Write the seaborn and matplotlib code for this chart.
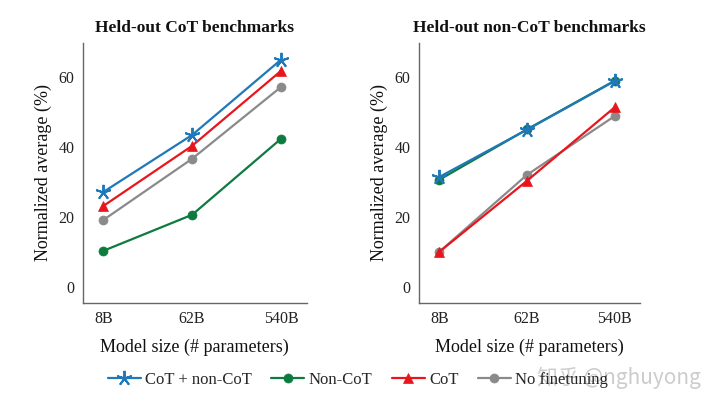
import numpy as np
import pandas as pd
import matplotlib
matplotlib.use("Agg")
import matplotlib.pyplot as plt
import seaborn as sns

sizes = ["8B", "62B", "540B"]
series = ["CoT + non-CoT", "Non-CoT", "CoT", "No finetuning"]

# held-out CoT benchmarks
cot_both = [27.1, 43.4, 64.9]
cot_noncot = [10.3, 20.6, 42.3]
cot_cot = [23.1, 40.3, 61.7]
cot_none = [19.1, 36.6, 57.1]

# held-out non-CoT benchmarks
noncot_both = [31.4, 44.9, 58.8]
noncot_noncot = [30.6, 45.0, 58.9]
noncot_cot = [10.0, 30.3, 51.3]
noncot_none = [10.0, 32.0, 48.8]

colors = {"CoT + non-CoT": "#1f78b8", "Non-CoT": "#0d7a40",
          "CoT": "#e8161c", "No finetuning": "#8a8a8a"}
markers = {"CoT + non-CoT": (5, 2, 0), "Non-CoT": "o", "CoT": "^", "No finetuning": "o"}
msizes = {"CoT + non-CoT": 11, "Non-CoT": 6.5, "CoT": 6.5, "No finetuning": 6.5}

sns.set_theme(style="white")
plt.rcParams["font.family"] = ["Liberation Serif", "DejaVu Serif"]

def make_df(vals):
    rows = []
    for name, v in zip(series, vals):
        for i, s in enumerate(sizes):
            rows.append({"size": i, "label": s, "value": v[i], "series": name})
    return pd.DataFrame(rows)

df_cot = make_df([cot_both, cot_noncot, cot_cot, cot_none])
df_noncot = make_df([noncot_both, noncot_noncot, noncot_cot, noncot_none])

fig = plt.figure(figsize=(7.2, 4.07), dpi=100)
ax1 = fig.add_axes([0.115, 0.2555, 0.311, 0.639])
ax2 = fig.add_axes([0.582, 0.2555, 0.307, 0.639])

for ax, df, title in [(ax1, df_cot, "Held-out CoT benchmarks"),
                      (ax2, df_noncot, "Held-out non-CoT benchmarks")]:
    # draw back to front so the blue line sits on top
    for name in series[::-1]:
        d = df[df["series"] == name]
        sns.lineplot(data=d, x="size", y="value", ax=ax, color=colors[name],
                     marker=markers[name], markersize=msizes[name],
                     markeredgecolor=colors[name], markeredgewidth=1.4 if name == series[0] else 0.5,
                     linewidth=1.6, label=name, legend=False)
    ax.set_xlim(-0.23, 2.29)
    ax.set_ylim(-4.6, 69.7)
    ax.set_xticks(range(len(sizes)))
    ax.set_xticklabels(sizes)
    ax.set_yticks([0, 20, 40, 60])
    ax.tick_params(direction="in", length=3, width=0.8, color="#666666",
                   labelsize=11.5, labelcolor="#222222", pad=6)
    for side in ["top", "right"]:
        ax.spines[side].set_visible(False)
    for side in ["left", "bottom"]:
        ax.spines[side].set_color("#666666")
        ax.spines[side].set_linewidth(1.0)
    ax.set_xlabel("Model size (# parameters)", fontsize=13, color="#111111", labelpad=8)
    ax.set_ylabel("Normalized average (%)", fontsize=13, color="#111111", labelpad=5)
    ax.set_title(title, fontsize=12.5, fontweight="bold", color="#111111", pad=8)

handles, labels = ax1.get_legend_handles_labels()
order = [labels.index(s) for s in series]
fig.legend([handles[i] for i in order], [labels[i] for i in order],
           loc="center", bbox_to_anchor=(0.497, 0.066), ncol=4, frameon=False,
           fontsize=12, handlelength=2.0, handletextpad=0.25, columnspacing=1.15)

fig.text(0.973, 0.072, "知乎 @nghuyong", ha="right", va="center", fontsize=15,
         color="#bbbbbb", alpha=0.75, family=["Noto Sans CJK SC", "DejaVu Sans"])

fig.savefig("out.png", dpi=100)
